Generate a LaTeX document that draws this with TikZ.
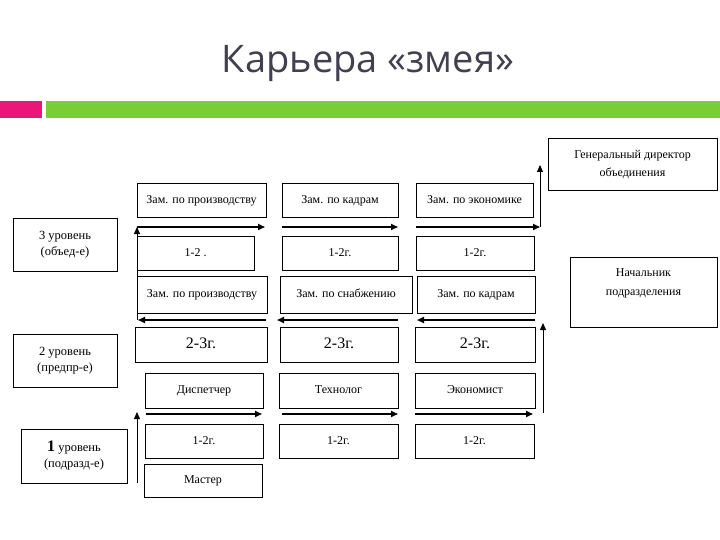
\documentclass[tikz,border=0pt]{standalone}
\usepackage{fontspec}
\setmainfont{Liberation Serif}
\newfontfamily\titlefont{Open Sans}
\usetikzlibrary{arrows.meta}
\definecolor{pinkbar}{RGB}{234,22,122}
\definecolor{greenbar}{RGB}{120,206,52}
\definecolor{titlegray}{RGB}{64,64,80}
\tikzset{
  box/.style={draw, line width=1pt, inner sep=0pt, align=center,
    text height=8.5pt, text depth=2.5pt,
    font=\fontsize{12}{14}\selectfont},
  big/.style={font=\fontsize{16}{18}\selectfont, text height=11pt, text depth=3pt},
  lvl/.style={box, text height=, text depth=, font=\fontsize{12.5}{16}\selectfont},
  run/.style={line width=1.6pt, -{Triangle[length=7pt,width=6pt]}},
  rise/.style={line width=1pt, -{Triangle[length=7pt,width=6pt]}}
}
\begin{document}
\begin{tikzpicture}[x=1pt,y=-1pt]
  \useasboundingbox (0,0) rectangle (720,540);
  \fill[pinkbar] (0,101) rectangle (42,118);
  \fill[greenbar] (46,101) rectangle (720,118);
  \node[titlegray, anchor=base, font=\titlefont\fontsize{38}{40}\selectfont] (title) at (368,73) {Карьера «змея»};

  % boxes
  \node[box, text height=, text depth=, font=\fontsize{12}{18}\selectfont, minimum width=169, minimum height=52] (gen) at (632.5,165) {Генеральный директор\\объединения};
  \node[box, minimum width=129, minimum height=34] (a1) at (201.5,201) {Зам. по производству};
  \node[box, minimum width=116, minimum height=34] (a2) at (340,201) {Зам. по кадрам};
  \node[box, minimum width=117, minimum height=34] (a3) at (474.5,201) {Зам. по экономике};
  \node[box, minimum width=117, minimum height=34] (b1) at (195.5,253) {1-2 .};
  \node[box, minimum width=116, minimum height=34] (b2) at (340,253) {1-2г.};
  \node[box, minimum width=118, minimum height=34] (b3) at (475,253) {1-2г.};
  \node[box, text height=, text depth=, minimum width=147, minimum height=70, font=\fontsize{12}{19}\selectfont] (nach) at (643.5,292) {Начальник\\подразделения\\~};
  \node[box, minimum width=130, minimum height=37] (c1) at (202,294.5) {Зам. по производству};
  \node[box, minimum width=132, minimum height=37] (c2) at (346,294.5) {Зам. по снабжению};
  \node[box, minimum width=118, minimum height=37] (c3) at (476,294.5) {Зам. по кадрам};
  \node[box, big, minimum width=132, minimum height=35] (d1) at (201,344.5) {2-3г.};
  \node[box, big, minimum width=118, minimum height=35] (d2) at (339,344.5) {2-3г.};
  \node[box, big, minimum width=120, minimum height=35] (d3) at (475,344.5) {2-3г.};
  \node[box, minimum width=118, minimum height=35] (e1) at (204,390.5) {Диспетчер};
  \node[box, minimum width=119, minimum height=35] (e2) at (338.5,390.5) {Технолог};
  \node[box, minimum width=120, minimum height=35] (e3) at (475,390.5) {Экономист};
  \node[box, minimum width=118, minimum height=34] (f1) at (204,441) {1-2г.};
  \node[box, minimum width=119, minimum height=34] (f2) at (338.5,441) {1-2г.};
  \node[box, minimum width=119, minimum height=34] (f3) at (474.5,441) {1-2г.};
  \node[box, minimum width=118, minimum height=33] (g) at (203,480.5) {Мастер};

  % levels
  \node[lvl, minimum width=104, minimum height=52] (lvl3) at (65,245) {3 уровень\\(объед-е)};
  \node[lvl, minimum width=104, minimum height=53] (lvl2) at (65,360.5) {2 уровень\\(предпр-е)};
  \node[lvl, minimum width=106, minimum height=54] (lvl1) at (74,456) {{\bfseries\fontsize{16}{16}\selectfont 1} уровень\\(подразд-е)};

  % snake
  \coordinate (p0) at (137,483);
  \coordinate (p1) at (137,412);
  \coordinate (q1) at (146,414);
  \coordinate (q2) at (262,414);
  \coordinate (q3) at (282,414);
  \coordinate (q4) at (398,414);
  \coordinate (q5) at (415,414);
  \coordinate (q6) at (533,414);
  \coordinate (r1) at (543,413);
  \coordinate (r2) at (543,323);
  \coordinate (s1) at (535,320);
  \coordinate (s2) at (417,320);
  \coordinate (s3) at (398,320);
  \coordinate (s4) at (277,320);
  \coordinate (s5) at (266,320);
  \coordinate (s6) at (138,320);
  \coordinate (t1) at (137,320);
  \coordinate (t2) at (137,227);
  \coordinate (u1) at (265,227);
  \coordinate (u2) at (282,227);
  \coordinate (u3) at (398,227);
  \coordinate (u4) at (416,227);
  \coordinate (u5) at (540,227);
  \coordinate (v1) at (540,165);
  \begin{scope}
    \draw[rise] (p0) to (p1);
    \draw[run] (q1) to (q2);
    \draw[run] (q3) to (q4);
    \draw[run] (q5) to (q6);
    \draw[rise] (r1) to (r2);
    \draw[run] (s1) to (s2);
    \draw[run] (s3) to (s4);
    \draw[run] (s5) to (s6);
    \draw[rise] (t1) to (t2);
    \draw[run] (t2) to (u1);
    \draw[run] (u2) to (u3);
    \draw[run] (u4) to (u5);
    \draw[rise] (u5) to (v1);
  \end{scope}
\end{tikzpicture}
\end{document}
